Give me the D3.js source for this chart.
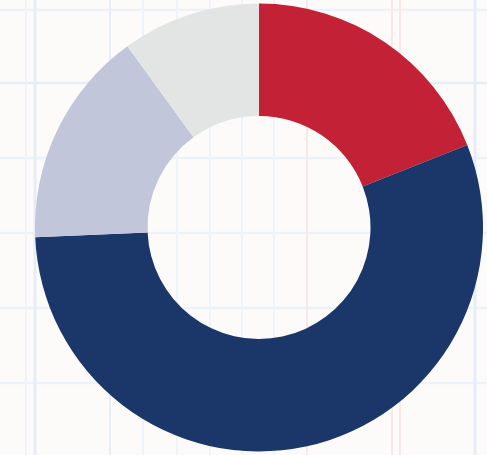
<!DOCTYPE html>
<html>
<head>
<meta charset="utf-8">
<script src="https://cdn.jsdelivr.net/npm/d3@7"></script>
<style>
  html, body { margin: 0; padding: 0; background: #fcfbf9; }
  svg { display: block; }
</style>
</head>
<body>
<svg id="chart" width="487" height="455"></svg>
<script>
// Data
const categories = ["A", "B", "C", "D"];
const values = [19, 55.3, 15.7, 10];
const colors = ["#c32135", "#1b3769", "#c1c6da", "#e3e5e4"];

// Background graph-paper decoration
const vLinesBlue = [26, 35, 110, 143, 177, 210, 242, 274, 475];
const vLinesRed = [307, 392, 400];
const hLines = [10, 83, 158, 233, 308, 383];

const W = 487, H = 455;
const svg = d3.select("#chart");

svg.append("rect").attr("width", W).attr("height", H).attr("fill", "#fcfbf9");

const bg = svg.append("g");
bg.selectAll("line.h").data(hLines).join("line")
  .attr("x1", 0).attr("x2", W).attr("y1", d => d).attr("y2", d => d)
  .attr("stroke", (d, i) => i === 1 ? "#e6edf7" : "#edf2f9")
  .attr("stroke-width", 2.5);
bg.selectAll("line.vb").data(vLinesBlue).join("line")
  .attr("y1", 0).attr("y2", H).attr("x1", d => d).attr("x2", d => d)
  .attr("stroke", d => (d === 35 || d === 110 || d === 475) ? "#e6edf7" : "#eff3fa")
  .attr("stroke-width", d => (d === 35 || d === 475) ? 3 : 2);
bg.selectAll("line.vr").data(vLinesRed).join("line")
  .attr("y1", 0).attr("y2", H).attr("x1", d => d).attr("x2", d => d)
  .attr("stroke", "#f9e8e8")
  .attr("stroke-width", 2);

// Donut
const cx = 259, cy = 227.5;
const outerR = 224, innerR = 111.5;

const pie = d3.pie().sort(null).value(d => d)(values);
const arc = d3.arc().innerRadius(innerR).outerRadius(outerR);

svg.append("g")
  .attr("transform", `translate(${cx},${cy})`)
  .selectAll("path").data(pie).join("path")
  .attr("d", arc)
  .attr("fill", (d, i) => colors[i]);
</script>
</body>
</html>
